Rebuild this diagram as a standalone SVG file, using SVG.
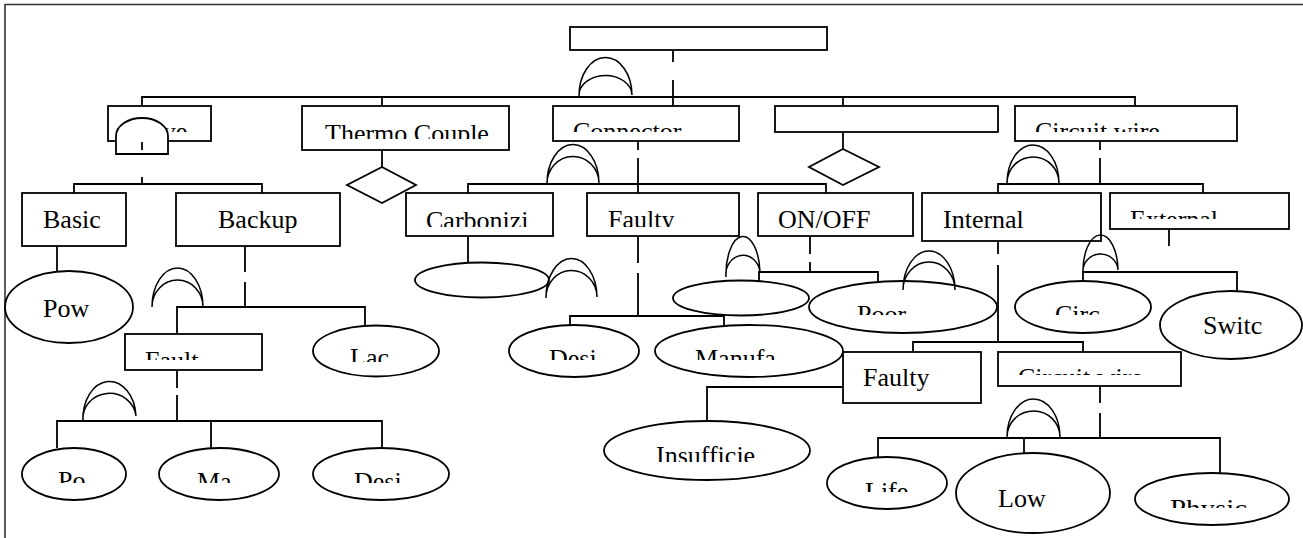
<svg xmlns="http://www.w3.org/2000/svg" width="1303" height="538" viewBox="0 0 1303 538">
<style>
.b{fill:#fff;stroke:#000;stroke-width:1.8}
.l{fill:none;stroke:#000;stroke-width:1.8}
.g{fill:none;stroke:#000;stroke-width:1.5}
.t{font-family:"Liberation Serif","Times New Roman",serif;font-size:26px;fill:#000}
</style>
<defs>
<clipPath id="k132"><rect x="0" y="0" width="1303" height="132"/></clipPath>
<clipPath id="k139"><rect x="0" y="0" width="1303" height="139"/></clipPath>
<clipPath id="k219"><rect x="0" y="0" width="1303" height="219"/></clipPath>
<clipPath id="k227"><rect x="0" y="0" width="1303" height="227"/></clipPath>
<clipPath id="k228"><rect x="0" y="0" width="1303" height="228"/></clipPath>
<clipPath id="k315"><rect x="0" y="0" width="1303" height="315"/></clipPath>
<clipPath id="k360"><rect x="0" y="0" width="1303" height="360"/></clipPath>
<clipPath id="k362"><rect x="0" y="0" width="1303" height="362"/></clipPath>
<clipPath id="k375"><rect x="0" y="0" width="1303" height="375"/></clipPath>
<clipPath id="k462"><rect x="0" y="0" width="1303" height="462"/></clipPath>
<clipPath id="k483"><rect x="0" y="0" width="1303" height="483"/></clipPath>
<clipPath id="k492"><rect x="0" y="0" width="1303" height="492"/></clipPath>
<clipPath id="k508"><rect x="0" y="0" width="1303" height="508"/></clipPath>
</defs>
<rect width="1303" height="538" fill="#fff"/>
<path d="M5,538 V4.5 H1303" fill="none" stroke="#333" stroke-width="1.6"/>

<g id="connectors" class="l">
<path d="M673,45 V62 M673,80 V106"/>
<path d="M142,106 V97 H1135 V106 M382,97 V106 M843,97 V106"/>
<path d="M142,142 V150 M142,177 V184"/>
<path d="M74,193 V184 H262 V193"/>
<path d="M57,246 V272"/>
<path d="M245,246 V272 M245,282 V307"/>
<path d="M177,334 V307 H365 V326"/>
<path d="M177,370 V388 M177,395 V421"/>
<path d="M57,448 V421 H382 V448 M211,421 V448"/>
<path d="M382,150 V167"/>
<path d="M638,141 V150 M638,158 V193"/>
<path d="M468,193 V184 H826 V193"/>
<path d="M468,228 V263"/>
<path d="M638,236 V263 M638,273 V316"/>
<path d="M570,325 V316 H724 V325"/>
<path d="M810,236 V254 M810,262 V272"/>
<path d="M759,281 V272 H878 V282"/>
<path d="M843,132 V149"/>
<path d="M1100,141 V150 M1100,158 V184"/>
<path d="M998,193 V184 H1203 V193"/>
<path d="M998,241 V254 M998,265 V342"/>
<path d="M1169,229 V246"/>
<path d="M1083,281 V272 H1237 V291"/>
<path d="M913,352 V342 H1083 V352"/>
<path d="M843,387 H707 V421"/>
<path d="M1100,386 V403 M1100,413 V438"/>
<path d="M878,457 V438 H1220 V473 M1024,438 V454"/>
</g>

<g id="top"><rect class="b" x="570" y="27" width="257" height="23"/></g>

<g id="valve">
<rect class="b" x="108" y="106" width="103" height="35"/>
<text class="t" x="128" y="140" clip-path="url(#k132)">Valve</text>
</g>
<g id="thermo">
<rect class="b" x="302" y="106" width="207" height="44"/>
<text class="t" x="325" y="142" clip-path="url(#k139)">Thermo Couple</text>
<polygon class="b" points="382,167 416,185 382,203 347,185"/>
</g>
<g id="connector">
<rect class="b" x="553" y="106" width="186" height="35"/>
<text class="t" x="573" y="140" clip-path="url(#k132)">Connector</text>
</g>
<g id="blank">
<rect class="b" x="775" y="106" width="223" height="26"/>
<polygon class="b" points="843,149 879,167 843,185 809,167"/>
</g>
<g id="circuit">
<rect class="b" x="1015" y="106" width="222" height="35"/>
<text class="t" x="1035" y="140" clip-path="url(#k132)">Circuit wire</text>
</g>

<g id="basic">
<rect class="b" x="22" y="193" width="104" height="53"/>
<text class="t" x="43" y="228">Basic</text>
</g>
<g id="backup">
<rect class="b" x="176" y="193" width="164" height="53"/>
<text class="t" x="218" y="228">Backup</text>
</g>
<g id="pow">
<ellipse class="b" cx="69" cy="307" rx="64" ry="36"/>
<text class="t" x="43" y="317">Pow</text>
</g>
<g id="fault">
<rect class="b" x="125" y="334" width="137" height="36"/>
<text class="t" x="145" y="369" clip-path="url(#k360)">Fault</text>
</g>
<g id="lac">
<ellipse class="b" cx="376" cy="351" rx="63" ry="25.5"/>
<text class="t" x="350" y="366" clip-path="url(#k362)">Lac</text>
</g>
<g id="po">
<ellipse class="b" cx="74" cy="474" rx="52" ry="26"/>
<text class="t" x="58" y="489" clip-path="url(#k483)">Po</text>
</g>
<g id="ma">
<ellipse class="b" cx="219" cy="474" rx="60" ry="26"/>
<text class="t" x="197" y="490" clip-path="url(#k483)">Ma</text>
</g>
<g id="desi1">
<ellipse class="b" cx="381" cy="474" rx="68" ry="26"/>
<text class="t" x="354" y="490" clip-path="url(#k483)">Desi</text>
</g>

<g id="carbon">
<rect class="b" x="406" y="193" width="147" height="43"/>
<text class="t" x="426" y="229" clip-path="url(#k227)">Carbonizi</text>
</g>
<g id="blank-ellipse1"><ellipse class="b" cx="482" cy="280" rx="67" ry="17.5"/></g>
<g id="faulty1">
<rect class="b" x="587" y="193" width="152" height="43"/>
<text class="t" x="608" y="228" clip-path="url(#k227)">Faulty</text>
</g>
<g id="desi2">
<ellipse class="b" cx="574" cy="351" rx="65" ry="26"/>
<text class="t" x="549" y="367" clip-path="url(#k360)">Desi</text>
</g>
<g id="manufa">
<ellipse class="b" cx="749" cy="351" rx="94" ry="26"/>
<text class="t" x="695" y="367" clip-path="url(#k360)">Manufa</text>
</g>
<g id="onoff">
<rect class="b" x="758" y="193" width="155" height="43"/>
<text class="t" x="778" y="228" clip-path="url(#k228)">ON/OFF</text>
</g>
<g id="blank-ellipse2"><ellipse class="b" cx="741" cy="298" rx="68" ry="17.5"/></g>
<g id="poor">
<ellipse class="b" cx="903" cy="307" rx="94" ry="26"/>
<text class="t" x="857" y="323" clip-path="url(#k315)">Poor</text>
</g>

<g id="internal">
<rect class="b" x="922" y="193" width="179" height="48"/>
<text class="t" x="943" y="228">Internal</text>
</g>
<g id="external">
<rect class="b" x="1110" y="193" width="179" height="36"/>
<text class="t" x="1130" y="228" clip-path="url(#k219)">External</text>
</g>
<g id="circ">
<ellipse class="b" cx="1083" cy="307" rx="68" ry="26"/>
<text class="t" x="1055" y="323" clip-path="url(#k315)">Circ</text>
</g>
<g id="switc">
<ellipse class="b" cx="1231" cy="325" rx="71" ry="34"/>
<text class="t" x="1203" y="334">Switc</text>
</g>
<g id="faulty2">
<rect class="b" x="843" y="352" width="138" height="51"/>
<text class="t" x="863" y="386">Faulty</text>
</g>
<g id="circuit2">
<rect class="b" x="998" y="352" width="183" height="34"/>
<text class="t" x="1018" y="386" clip-path="url(#k375)">Circuit wire</text>
</g>
<g id="insufficie">
<ellipse class="b" cx="707" cy="450.5" rx="103" ry="29.5"/>
<text class="t" x="656" y="464" clip-path="url(#k462)">Insufficie</text>
</g>
<g id="life">
<ellipse class="b" cx="887" cy="483" rx="60" ry="26"/>
<text class="t" x="865" y="500" clip-path="url(#k492)">Life</text>
</g>
<g id="low">
<ellipse class="b" cx="1033" cy="493" rx="77" ry="40"/>
<text class="t" x="998" y="507">Low</text>
</g>
<g id="physic">
<ellipse class="b" cx="1212" cy="499" rx="77" ry="26"/>
<text class="t" x="1170" y="517" textLength="77" lengthAdjust="spacingAndGlyphs" clip-path="url(#k508)">Physic</text>
</g>

<g id="gates">
<path class="b" d="M116,154 V136 A26,18 0 0 1 168,136 V154 Z"/>
<path class="l" d="M142,142 V150"/>
<path class="g" d="M579,96 A26.5,38 0 0 1 632,95 M579,96 A26.5,20 0 0 1 632,95"/>
<path class="g" d="M547,184 A26,39 0 0 1 599,183 M547,184 A26,27 0 0 1 599,183"/>
<path class="g" d="M1007,183 A26,38 0 0 1 1059,183 M1007,183 A26,26 0 0 1 1059,183"/>
<path class="g" d="M152,307 A25.5,39 0 0 1 203,307 M152,307 A25.5,27 0 0 1 203,307"/>
<path class="g" d="M83,421 A26.5,37 0 0 1 136,416 M83,421 A26.5,25 0 0 1 136,416"/>
<path class="g" d="M546,298 A25.5,39 0 0 1 597,297 M546,298 A25.5,27 0 0 1 597,297"/>
<path class="g" d="M726,277 A17,38 0 0 1 760,272 M726,277 A17,19 0 0 1 760,272"/>
<path class="g" d="M903,290 A26,39 0 0 1 955,290 M903,290 A26,28 0 0 1 955,290"/>
<path class="g" d="M1083,272 A17.5,36 0 0 1 1118,270 M1083,272 A17.5,17 0 0 1 1118,270"/>
<path class="g" d="M1007,437 A26.5,38 0 0 1 1060,437 M1007,437 A26.5,26 0 0 1 1060,437"/>
</g>
</svg>
